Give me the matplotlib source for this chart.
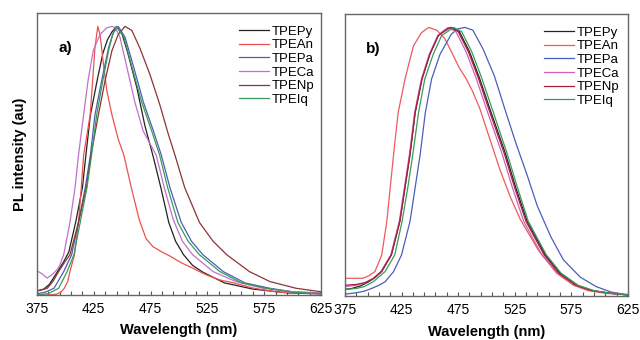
import numpy as np
import matplotlib
matplotlib.use("Agg")
import matplotlib.pyplot as plt
from matplotlib.ticker import FixedLocator, NullLocator

plt.rcParams['font.family'] = ['Liberation Sans', 'DejaVu Sans']

# ---- panel a) ----
a_py_wl = [375, 381, 386, 392, 398, 403, 409, 415, 418, 422, 428, 433, 437, 441, 445, 450, 455, 463, 470, 477, 484, 491, 497, 504, 512, 521, 540, 565, 595, 625]
a_py = [0.015, 0.022, 0.04, 0.08, 0.12, 0.16, 0.27, 0.40, 0.52, 0.67, 0.80, 0.90, 0.95, 0.98, 1.0, 0.97, 0.90, 0.77, 0.63, 0.52, 0.40, 0.27, 0.20, 0.15, 0.11, 0.085, 0.045, 0.022, 0.008, 0.004]

a_an_wl = [375, 385, 392, 396, 399, 402, 404, 408, 411.5, 414, 416, 421.8, 424, 426, 428.5, 430.5, 433.5, 436.5, 441, 446.5, 451.5, 458, 465, 471, 477, 485, 492, 502, 512, 524, 536, 548, 565, 586, 625]
a_an = [0.0, 0.0, 0.003, 0.01, 0.025, 0.05, 0.087, 0.15, 0.27, 0.40, 0.52, 0.67, 0.80, 0.92, 1.0, 0.97, 0.86, 0.76, 0.67, 0.58, 0.52, 0.40, 0.28, 0.21, 0.18, 0.16, 0.145, 0.12, 0.10, 0.075, 0.056, 0.045, 0.026, 0.011, 0.005]

a_pa_wl = [375, 382, 390, 398.5, 405.5, 411.5, 417.5, 422, 426, 432, 438, 442, 446.5, 452.5, 460, 468.5, 477.5, 484.5, 492, 502, 511, 521, 539, 558, 580, 600, 625]
a_pa = [0.005, 0.01, 0.025, 0.087, 0.15, 0.27, 0.40, 0.52, 0.67, 0.80, 0.92, 0.975, 1.0, 0.96, 0.85, 0.72, 0.61, 0.52, 0.40, 0.27, 0.20, 0.15, 0.087, 0.045, 0.025, 0.012, 0.006]

a_ca_wl = [375, 379, 384, 388, 392.5, 395, 398.5, 404, 408.5, 411.5, 416, 420, 424.5, 430.5, 436.5, 441, 444, 448, 454, 461, 468.5, 480, 487, 495, 503, 512, 530, 550, 574, 600, 625]
a_ca = [0.09, 0.08, 0.063, 0.075, 0.093, 0.11, 0.15, 0.27, 0.40, 0.52, 0.67, 0.80, 0.91, 0.97, 0.995, 1.0, 0.995, 0.96, 0.85, 0.72, 0.61, 0.52, 0.40, 0.28, 0.20, 0.15, 0.087, 0.05, 0.025, 0.012, 0.008]

a_np_wl = [375, 380, 384, 389, 394, 399, 404, 411.5, 418.5, 422.5, 429, 435, 441, 446.5, 452.5, 458.5, 465.5, 474.5, 483, 490.5, 496.5, 505, 518, 530, 542, 562, 580, 603, 625]
a_np = [0.015, 0.02, 0.025, 0.05, 0.087, 0.12, 0.15, 0.27, 0.40, 0.52, 0.67, 0.80, 0.91, 0.97, 1.0, 0.985, 0.92, 0.82, 0.71, 0.60, 0.52, 0.40, 0.27, 0.20, 0.15, 0.087, 0.05, 0.025, 0.012]

a_iq_wl = [375, 385, 394, 401.5, 407.5, 413, 419, 423, 427.5, 433, 438.5, 442, 445, 451.5, 458.5, 467, 476, 483, 490, 499, 508, 518, 536, 555, 577, 600, 625]
a_iq = [0.0, 0.005, 0.025, 0.087, 0.15, 0.27, 0.40, 0.52, 0.67, 0.80, 0.92, 0.975, 1.0, 0.96, 0.85, 0.72, 0.61, 0.52, 0.40, 0.27, 0.20, 0.15, 0.087, 0.045, 0.025, 0.01, 0.005]

# ---- panel b) ----
b_py_wl = [375, 381, 389, 396, 402, 407.5, 416, 423.5, 428, 432.5, 437, 443, 450, 457.5, 463, 469, 476, 485, 494, 504, 517, 526, 536, 552, 565, 580, 594, 610, 625]
b_py = [0.025, 0.028, 0.038, 0.053, 0.07, 0.091, 0.153, 0.278, 0.403, 0.528, 0.682, 0.807, 0.90, 0.97, 0.99, 1.0, 0.985, 0.91, 0.81, 0.685, 0.528, 0.403, 0.278, 0.153, 0.085, 0.04, 0.02, 0.01, 0.004]

b_an_wl = [375, 391, 396, 401.5, 407.5, 412, 415, 418, 422, 428, 435.5, 442.5, 449, 456, 463, 469, 476, 482, 488, 494, 503, 512, 521, 530, 546, 562, 577, 590, 605, 625]
b_an = [0.066, 0.066, 0.075, 0.091, 0.153, 0.278, 0.403, 0.528, 0.682, 0.807, 0.931, 0.98, 1.0, 0.99, 0.96, 0.91, 0.85, 0.81, 0.76, 0.70, 0.585, 0.47, 0.37, 0.285, 0.17, 0.085, 0.04, 0.02, 0.01, 0.004]

b_pa_wl = [375, 385, 392, 398.5, 405, 410.5, 418, 425, 432.5, 437, 441.5, 446, 451.5, 459, 469, 475, 481, 488, 497, 507, 516, 526, 536, 545, 557, 568, 583, 597, 610, 625]
b_pa = [0.007, 0.012, 0.018, 0.028, 0.04, 0.053, 0.091, 0.153, 0.278, 0.403, 0.528, 0.682, 0.807, 0.90, 0.975, 0.995, 1.0, 0.99, 0.92, 0.82, 0.70, 0.57, 0.45, 0.335, 0.22, 0.135, 0.07, 0.035, 0.015, 0.004]

b_ca_wl = [375, 385, 393, 400, 407, 415.5, 423, 427.5, 432, 436.5, 442.5, 449.5, 457, 466, 473, 482, 491, 501, 514, 523, 533, 549, 563, 579, 593, 610, 625]
b_ca = [0.035, 0.04, 0.05, 0.065, 0.091, 0.153, 0.278, 0.403, 0.528, 0.682, 0.807, 0.90, 0.97, 1.0, 0.985, 0.91, 0.81, 0.685, 0.528, 0.403, 0.278, 0.153, 0.085, 0.04, 0.02, 0.01, 0.006]

b_np_wl = [375, 385, 393, 400, 407, 416, 423.5, 428, 432.5, 437, 443, 450, 457.5, 468, 475, 484, 493, 503, 516, 525, 535, 551, 564, 579, 593, 610, 625]
b_np = [0.04, 0.043, 0.05, 0.065, 0.091, 0.153, 0.278, 0.403, 0.528, 0.682, 0.807, 0.90, 0.97, 1.0, 0.985, 0.91, 0.81, 0.685, 0.528, 0.403, 0.278, 0.153, 0.085, 0.04, 0.02, 0.01, 0.004]

b_iq_wl = [375, 385, 392, 400, 410.5, 419, 425.5, 430.5, 435, 440, 445.5, 453, 460.5, 471, 478, 487, 496, 506, 518.5, 527.5, 537, 553, 566, 581, 595, 610, 625]
b_iq = [0.025, 0.028, 0.035, 0.053, 0.091, 0.153, 0.278, 0.403, 0.528, 0.682, 0.807, 0.90, 0.97, 1.0, 0.985, 0.91, 0.81, 0.685, 0.528, 0.403, 0.278, 0.153, 0.085, 0.04, 0.02, 0.01, 0.004]

names = ["TPEPy", "TPEAn", "TPEPa", "TPECa", "TPENp", "TPEIq"]
colors_a = ["#222222", "#ee5050", "#4a5fb0", "#c070d0", "#8a3535", "#3a9a5a"]
colors_b = ["#222222", "#ee5a5a", "#4a5fb8", "#d060c0", "#a81e3a", "#3a9a5a"]
ticks = [375, 425, 475, 525, 575, 625]

fig = plt.figure(figsize=(6.4, 3.4), dpi=100)
ax_a = fig.add_axes([0.0578, 0.1324, 0.4438, 0.8294])
ax_b = fig.add_axes([0.539, 0.1294, 0.442, 0.8294])

series_a = [(a_py_wl, a_py), (a_an_wl, a_an), (a_pa_wl, a_pa), (a_ca_wl, a_ca), (a_np_wl, a_np), (a_iq_wl, a_iq)]
series_b = [(b_py_wl, b_py), (b_an_wl, b_an), (b_pa_wl, b_pa), (b_ca_wl, b_ca), (b_np_wl, b_np), (b_iq_wl, b_iq)]

for ax, series, cols, lab, leg_x, xpad in [(ax_a, series_a, colors_a, "a)", 0.711, 5),
                                           (ax_b, series_b, colors_b, "b)", 0.703, 6)]:
    for (wl, y), name, c in zip(series, names, cols):
        ax.plot(wl, y, color=c, lw=0.9, label=name)
    ax.set_xlim(375, 625)
    ax.set_ylim(0, 1.05)
    ax.xaxis.set_major_locator(FixedLocator(ticks))
    ax.xaxis.set_minor_locator(FixedLocator(np.arange(375, 626, 10)))
    ax.yaxis.set_major_locator(NullLocator())
    ax.tick_params(axis="x", which="both", direction="in", length=3, width=0.8,
                   color="#555555", labelsize=10, pad=5)
    for s in ax.spines.values():
        s.set_color("#666666")
        s.set_linewidth(1.0)
    ax.set_xlabel("Wavelength (nm)", fontsize=10.5, fontweight="bold", labelpad=xpad)
    ax.text(0.075, 0.86, lab, transform=ax.transAxes, fontsize=11, fontweight="bold")
    ax.legend(loc="upper left", bbox_to_anchor=(leg_x, 0.955), frameon=False,
              fontsize=9.5, handlelength=2.3, handletextpad=0.2, labelspacing=0.1,
              borderaxespad=0, borderpad=0)

ax_a.set_ylabel("PL intensity (au)", fontsize=10.5, fontweight="bold", labelpad=7)

fig.savefig("out.png", dpi=100)
